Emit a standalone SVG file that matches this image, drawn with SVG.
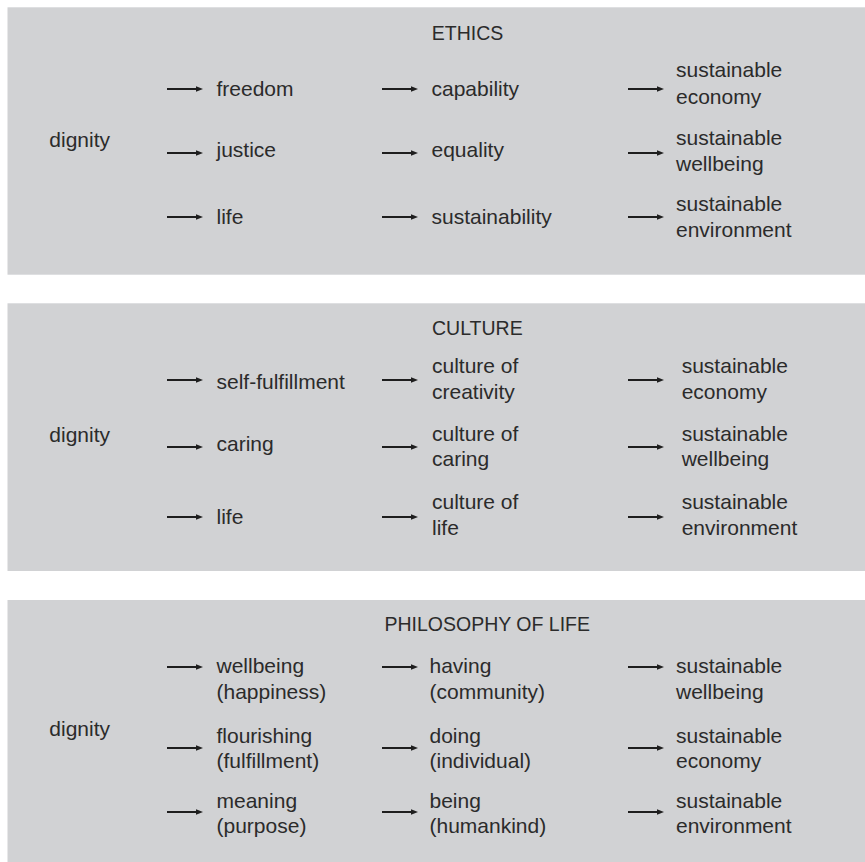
<svg xmlns="http://www.w3.org/2000/svg" width="865" height="862" viewBox="0 0 865 862">
<style>
  .panel { fill: #d1d2d4; }
  text { font-family: "Liberation Sans", Arial, sans-serif; fill: #2b2b2b; }
  .t { font-size: 21px; }
  .h { font-size: 19.5px; }
  .arr { stroke: #1e1e1e; stroke-width: 2; fill: none; marker-end: url(#ah); }
</style>
<defs>
  <marker id="ah" markerUnits="userSpaceOnUse" markerWidth="8" markerHeight="7" refX="0.5" refY="3.5" orient="auto">
    <path d="M0,0.5 L7.5,3.5 L0,6.5 z" fill="#1e1e1e"/>
  </marker>
</defs>
<rect width="865" height="862" fill="#ffffff"/>

<!-- Panel 1: ETHICS -->
<g id="panel-ethics">
  <rect class="panel" x="7.5" y="7.3" width="857.5" height="267.4"/>
  <g id="ethics-title"><text class="h" x="431.8" y="40">ETHICS</text></g>
  <g id="ethics-dignity"><text class="t" x="49.3" y="147">dignity</text></g>
  <g id="ethics-freedom"><text class="t" x="216.5" y="96">freedom</text></g>
  <g id="ethics-justice"><text class="t" x="216.5" y="157">justice</text></g>
  <g id="ethics-life"><text class="t" x="216.5" y="224">life</text></g>
  <g id="ethics-capability"><text class="t" x="431.5" y="96">capability</text></g>
  <g id="ethics-equality"><text class="t" x="431.5" y="157">equality</text></g>
  <g id="ethics-sustainability"><text class="t" x="431.5" y="224">sustainability</text></g>
  <g id="ethics-economy"><text class="t" x="676" y="77"><tspan x="676">sustainable</tspan><tspan x="676" y="104">economy</tspan></text></g>
  <g id="ethics-wellbeing"><text class="t" x="676" y="145"><tspan x="676">sustainable</tspan><tspan x="676" y="171">wellbeing</tspan></text></g>
  <g id="ethics-environment"><text class="t" x="676" y="210.5"><tspan x="676">sustainable</tspan><tspan x="676" y="237">environment</tspan></text></g>
</g>

<!-- Panel 2: CULTURE -->
<g id="panel-culture">
  <rect class="panel" x="7.5" y="303.3" width="857.5" height="267.7"/>
  <g id="culture-title"><text class="h" x="432" y="335">CULTURE</text></g>
  <g id="culture-dignity"><text class="t" x="49.3" y="442">dignity</text></g>
  <g id="culture-selffulfillment"><text class="t" x="216.5" y="389">self-fulfillment</text></g>
  <g id="culture-caring"><text class="t" x="216.5" y="451">caring</text></g>
  <g id="culture-life"><text class="t" x="216.5" y="524">life</text></g>
  <g id="culture-creativity"><text class="t" x="432" y="372.5"><tspan x="432">culture of</tspan><tspan x="432" y="398.5">creativity</tspan></text></g>
  <g id="culture-ofcaring"><text class="t" x="432" y="441"><tspan x="432">culture of</tspan><tspan x="432" y="466">caring</tspan></text></g>
  <g id="culture-oflife"><text class="t" x="432" y="509"><tspan x="432">culture of</tspan><tspan x="432" y="534.5">life</tspan></text></g>
  <g id="culture-economy"><text class="t" x="681.7" y="372.5"><tspan x="681.7">sustainable</tspan><tspan x="681.7" y="398.5">economy</tspan></text></g>
  <g id="culture-wellbeing"><text class="t" x="681.7" y="441"><tspan x="681.7">sustainable</tspan><tspan x="681.7" y="466">wellbeing</tspan></text></g>
  <g id="culture-environment"><text class="t" x="681.7" y="509"><tspan x="681.7">sustainable</tspan><tspan x="681.7" y="534.5">environment</tspan></text></g>
</g>

<!-- Panel 3: PHILOSOPHY OF LIFE -->
<g id="panel-philosophy">
  <rect class="panel" x="7.5" y="600" width="857.5" height="262"/>
  <g id="philosophy-title"><text class="h" x="384.5" y="631">PHILOSOPHY OF LIFE</text></g>
  <g id="philosophy-dignity"><text class="t" x="49.3" y="736">dignity</text></g>
  <g id="philosophy-wellbeing"><text class="t" x="216.5" y="673"><tspan x="216.5">wellbeing</tspan><tspan x="216.5" y="699">(happiness)</tspan></text></g>
  <g id="philosophy-flourishing"><text class="t" x="216.5" y="743"><tspan x="216.5">flourishing</tspan><tspan x="216.5" y="768">(fulfillment)</tspan></text></g>
  <g id="philosophy-meaning"><text class="t" x="216.5" y="808"><tspan x="216.5">meaning</tspan><tspan x="216.5" y="833">(purpose)</tspan></text></g>
  <g id="philosophy-having"><text class="t" x="429.5" y="673"><tspan x="429.5">having</tspan><tspan x="429.5" y="699">(community)</tspan></text></g>
  <g id="philosophy-doing"><text class="t" x="429.5" y="743"><tspan x="429.5">doing</tspan><tspan x="429.5" y="768">(individual)</tspan></text></g>
  <g id="philosophy-being"><text class="t" x="429.5" y="808"><tspan x="429.5">being</tspan><tspan x="429.5" y="833">(humankind)</tspan></text></g>
  <g id="philosophy-swellbeing"><text class="t" x="676" y="673"><tspan x="676">sustainable</tspan><tspan x="676" y="699">wellbeing</tspan></text></g>
  <g id="philosophy-seconomy"><text class="t" x="676" y="743"><tspan x="676">sustainable</tspan><tspan x="676" y="768">economy</tspan></text></g>
  <g id="philosophy-senvironment"><text class="t" x="676" y="808"><tspan x="676">sustainable</tspan><tspan x="676" y="833">environment</tspan></text></g>
</g>

<!-- Connectors -->
<g id="connectors">
  <!-- Panel 1 -->
  <line class="arr" x1="167" y1="89" x2="196" y2="89"/>
  <line class="arr" x1="382" y1="89" x2="411" y2="89"/>
  <line class="arr" x1="628" y1="89" x2="657" y2="89"/>
  <line class="arr" x1="167" y1="153" x2="196" y2="153"/>
  <line class="arr" x1="382" y1="153" x2="411" y2="153"/>
  <line class="arr" x1="628" y1="153" x2="657" y2="153"/>
  <line class="arr" x1="167" y1="217" x2="196" y2="217"/>
  <line class="arr" x1="382" y1="217" x2="411" y2="217"/>
  <line class="arr" x1="628" y1="217" x2="657" y2="217"/>
  <!-- Panel 2 -->
  <line class="arr" x1="167" y1="380" x2="196" y2="380"/>
  <line class="arr" x1="382" y1="380" x2="411" y2="380"/>
  <line class="arr" x1="628" y1="380" x2="657" y2="380"/>
  <line class="arr" x1="167" y1="447" x2="196" y2="447"/>
  <line class="arr" x1="382" y1="447" x2="411" y2="447"/>
  <line class="arr" x1="628" y1="447" x2="657" y2="447"/>
  <line class="arr" x1="167" y1="517" x2="196" y2="517"/>
  <line class="arr" x1="382" y1="517" x2="411" y2="517"/>
  <line class="arr" x1="628" y1="517" x2="657" y2="517"/>
  <!-- Panel 3 -->
  <line class="arr" x1="167" y1="667" x2="196" y2="667"/>
  <line class="arr" x1="382" y1="667" x2="411" y2="667"/>
  <line class="arr" x1="628" y1="667" x2="657" y2="667"/>
  <line class="arr" x1="167" y1="748" x2="196" y2="748"/>
  <line class="arr" x1="382" y1="748" x2="411" y2="748"/>
  <line class="arr" x1="628" y1="748" x2="657" y2="748"/>
  <line class="arr" x1="167" y1="812" x2="196" y2="812"/>
  <line class="arr" x1="382" y1="812" x2="411" y2="812"/>
  <line class="arr" x1="628" y1="812" x2="657" y2="812"/>
</g>
</svg>
